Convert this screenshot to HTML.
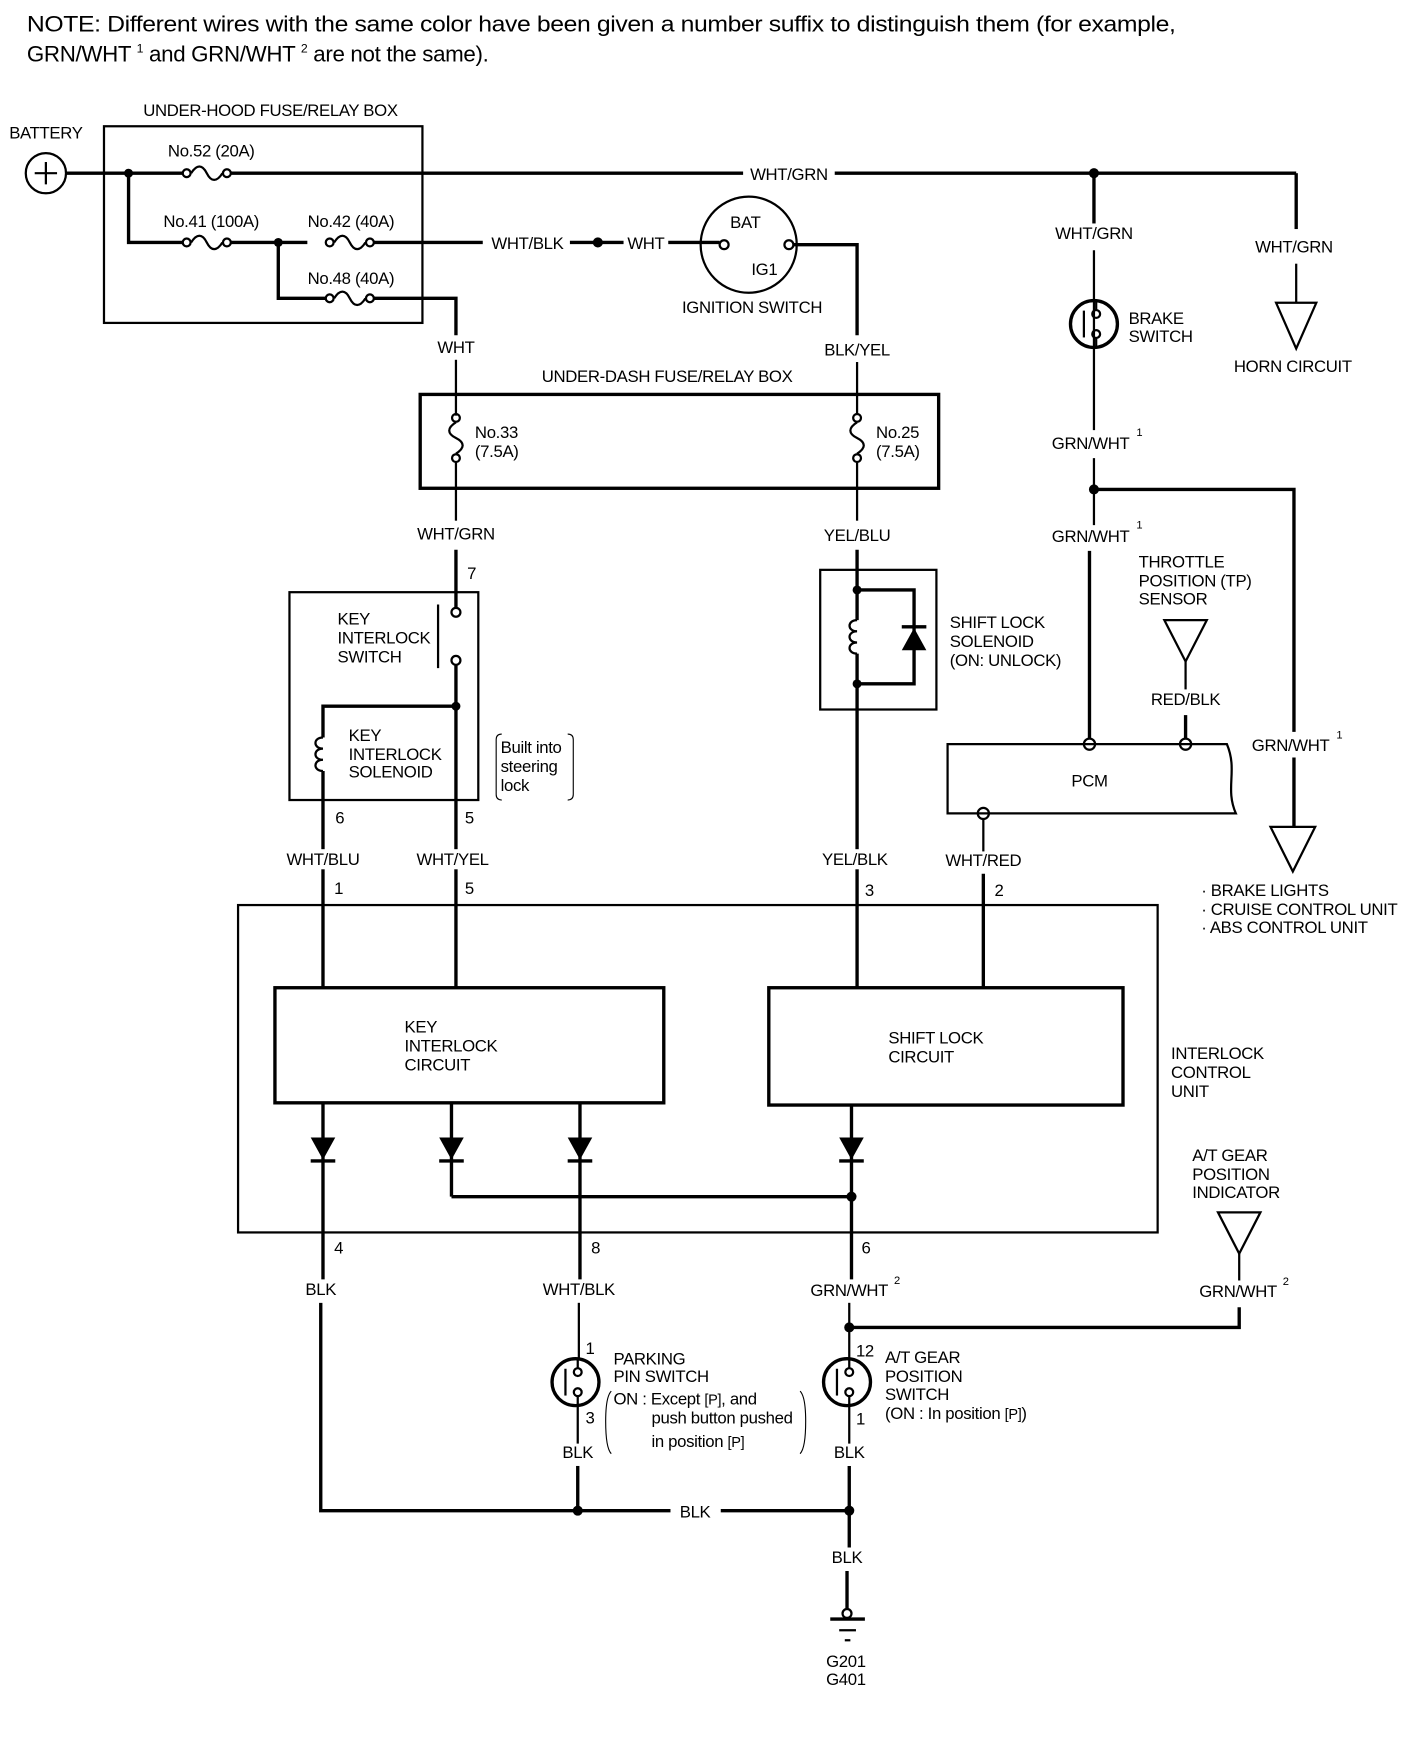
<!DOCTYPE html>
<html><head><meta charset="utf-8"><style>
html,body{margin:0;padding:0;background:#fff;}
svg{display:block;}
text{font-family:"Liberation Sans Narrow","Liberation Sans",sans-serif;font-size:15px;fill:#000;letter-spacing:-0.3px;}
.m{text-anchor:middle;}
.w{stroke:#000;stroke-width:3;fill:none;}
.t{stroke:#000;stroke-width:2;fill:none;}
.b{stroke:#000;stroke-width:2;fill:none;}
</style></head><body>
<svg width="1408" height="1752" viewBox="0 0 1260 1568" xmlns="http://www.w3.org/2000/svg">
<defs>
<g id="fh"><circle cx="4" cy="0" r="3.5" class="t" fill="#fff"/><path d="M8,0 C13,-8 18,-8 22,0 C26,8 31,8 36,0" class="t"/><circle cx="40" cy="0" r="3.5" class="t" fill="#fff"/></g>
<g id="fv"><circle cx="0" cy="4" r="3.5" class="t" fill="#fff"/><path d="M0,8 C-8,13 -8,18 0,22 C8,26 8,31 0,36" class="t"/><circle cx="0" cy="40" r="3.5" class="t" fill="#fff"/></g>
<g id="sw"><circle cx="0" cy="0" r="21" class="w" fill="#fff"/><line x1="-9" y1="-12" x2="-9" y2="12" class="t"/><circle cx="2" cy="-9" r="3.5" class="t" fill="#fff"/><circle cx="2" cy="9" r="3.5" class="t" fill="#fff"/><line x1="2" y1="-21" x2="2" y2="-12.5" class="t"/><line x1="2" y1="12.5" x2="2" y2="21" class="t"/></g>
<g id="coil"><path d="M0,0 C-9,0 -9,10 0,10 C-9,10 -9,20 0,20 C-9,20 -9,30 0,30" class="t"/></g>
<g id="dd"><polygon points="-11,0 11,0 0,20" fill="#000"/><line x1="-11" y1="21" x2="11" y2="21" class="w"/></g>
</defs>

<text x="24" y="28" style="font-size:20px" textLength="1028" lengthAdjust="spacingAndGlyphs">NOTE:   Different wires with the same color have been given a number suffix to distinguish them (for example,</text>
<text x="24" y="55" style="font-size:20px">GRN/WHT <tspan dy="-8" style="font-size:11px">1</tspan><tspan dy="8"> and GRN/WHT </tspan><tspan dy="-8" style="font-size:11px">2</tspan><tspan dy="8"> are not the same).</tspan></text>

<!-- under-hood -->
<text x="242" y="104" class="m">UNDER-HOOD FUSE/RELAY BOX</text>
<text x="41" y="124" class="m">BATTERY</text>
<circle cx="41" cy="155" r="18" class="t"/>
<line x1="31" y1="155" x2="51" y2="155" class="t"/><line x1="41" y1="145" x2="41" y2="165" class="t"/>
<rect x="93" y="113" width="285" height="176" class="t"/>
<line x1="59" y1="155" x2="163" y2="155" class="w"/>
<use href="#fh" x="163" y="155"/>
<text x="189" y="140" class="m">No.52 (20A)</text>
<line x1="207" y1="155" x2="665" y2="155" class="w"/>
<text x="706" y="161" class="m">WHT/GRN</text>
<line x1="747" y1="155" x2="1160" y2="155" class="w"/>
<circle cx="115" cy="155" r="4"/>
<polyline points="115,155 115,217 163,217" class="w"/>
<use href="#fh" x="163" y="217"/>
<text x="189" y="203" class="m">No.41 (100A)</text>
<line x1="207" y1="217" x2="275" y2="217" class="w"/>
<circle cx="249" cy="217" r="4"/>
<use href="#fh" x="291" y="217"/>
<text x="314" y="203" class="m">No.42 (40A)</text>
<line x1="335" y1="217" x2="432" y2="217" class="w"/>
<text x="472" y="223" class="m">WHT/BLK</text>
<line x1="510" y1="217" x2="558" y2="217" class="w"/>
<circle cx="535" cy="217" r="4.5"/>
<text x="578" y="223" class="m">WHT</text>
<line x1="598" y1="217" x2="644" y2="217" class="w"/>
<polyline points="249,217 249,267 291,267" class="w"/>
<use href="#fh" x="291" y="267"/>
<text x="314" y="254" class="m">No.48 (40A)</text>
<polyline points="335,267 408,267 408,300" class="w"/>
<text x="408" y="316" class="m">WHT</text>
<line x1="408" y1="322" x2="408" y2="372" class="t"/>

<!-- ignition -->
<circle cx="670" cy="219" r="43" class="t"/>
<text x="667" y="204" class="m">BAT</text>
<text x="684" y="246" class="m">IG1</text>
<circle cx="648" cy="219" r="4" class="t"/><circle cx="706" cy="219" r="4" class="t"/>
<text x="673" y="280" class="m">IGNITION SWITCH</text>
<polyline points="710,219 767,219 767,300" class="w"/>
<text x="767" y="318" class="m">BLK/YEL</text>
<line x1="767" y1="324" x2="767" y2="370" class="t"/>

<!-- under-dash -->
<text x="597" y="342" class="m">UNDER-DASH FUSE/RELAY BOX</text>
<rect x="376" y="353" width="464" height="84" class="w"/>
<use href="#fv" x="408" y="370"/>
<use href="#fv" x="767" y="370"/>
<text x="425" y="392">No.33</text><text x="425" y="409">(7.5A)</text>
<text x="784" y="392">No.25</text><text x="784" y="409">(7.5A)</text>
<line x1="408" y1="414" x2="408" y2="466" class="t"/>
<text x="408" y="483" class="m">WHT/GRN</text>
<line x1="408" y1="492" x2="408" y2="544" class="w"/>
<text x="418" y="518">7</text>
<line x1="767" y1="414" x2="767" y2="466" class="t"/>
<text x="767" y="484" class="m">YEL/BLU</text>
<line x1="767" y1="492" x2="767" y2="555" class="w"/>

<!-- key interlock -->
<rect x="259" y="530" width="169" height="186" class="t"/>
<circle cx="408" cy="548" r="4" class="t" fill="#fff"/>
<circle cx="408" cy="591" r="4" class="t" fill="#fff"/>
<line x1="392" y1="541" x2="392" y2="598" class="t"/>
<text x="302" y="559">KEY</text><text x="302" y="576">INTERLOCK</text><text x="302" y="593">SWITCH</text>
<line x1="408" y1="595" x2="408" y2="884" class="w"/>
<circle cx="408" cy="632" r="4"/>
<polyline points="408,632 289,632 289,660" class="w"/>
<use href="#coil" x="289" y="660"/>
<line x1="289" y1="690" x2="289" y2="884" class="w"/>
<text x="312" y="663">KEY</text><text x="312" y="680">INTERLOCK</text><text x="312" y="696">SOLENOID</text>
<path d="M449,657 Q444,657 444,662 L444,711 Q444,716 449,716" class="b" style="stroke-width:1"/>
<path d="M508,657 Q513,657 513,662 L513,711 Q513,716 508,716" class="b" style="stroke-width:1"/>
<text x="448" y="674">Built into</text><text x="448" y="691">steering</text><text x="448" y="708">lock</text>
<text x="300" y="737">6</text><text x="416" y="737">5</text>
<rect x="282" y="760" width="16" height="18" fill="#fff"/><rect x="400" y="760" width="16" height="18" fill="#fff"/>
<text x="289" y="774" class="m">WHT/BLU</text>
<text x="405" y="774" class="m">WHT/YEL</text>
<text x="299" y="800">1</text><text x="416" y="800">5</text>

<!-- shift lock solenoid -->
<rect x="734" y="510" width="104" height="125" class="t"/>
<circle cx="767" cy="528" r="4"/>
<polyline points="767,528 818,528 818,612 767,612" class="w"/>
<polygon points="807,582 829,582 818,562" fill="#000"/>
<line x1="807" y1="561" x2="829" y2="561" class="w"/>
<use href="#coil" x="767" y="555"/>
<line x1="767" y1="585" x2="767" y2="884" class="w"/>
<circle cx="767" cy="612" r="4"/>
<text x="850" y="562">SHIFT LOCK</text><text x="850" y="579">SOLENOID</text><text x="850" y="596">(ON: UNLOCK)</text>
<rect x="755" y="760" width="24" height="18" fill="#fff"/>
<text x="765" y="774" class="m">YEL/BLK</text>
<text x="774" y="802">3</text>

<!-- right side -->
<circle cx="979" cy="155" r="4.5"/>
<line x1="979" y1="155" x2="979" y2="200" class="w"/>
<text x="979" y="214" class="m">WHT/GRN</text>
<line x1="979" y1="224" x2="979" y2="385" class="t"/>
<use href="#sw" x="979" y="290"/>
<text x="1010" y="290">BRAKE</text><text x="1010" y="306">SWITCH</text>
<text x="976" y="402" class="m">GRN/WHT</text><text x="1017" y="390" style="font-size:10px">1</text>
<line x1="979" y1="410" x2="979" y2="470" class="t"/>
<circle cx="979" cy="438" r="4.5"/>
<polyline points="979,438 1158,438 1158,655" class="w"/>
<line x1="1158" y1="678" x2="1158" y2="740" class="w"/>
<text x="976" y="485" class="m">GRN/WHT</text><text x="1017" y="473" style="font-size:10px">1</text>
<line x1="975" y1="493" x2="975" y2="662" class="w"/>
<polyline points="1160,155 1160,205" class="w"/>
<text x="1158" y="226" class="m">WHT/GRN</text>
<line x1="1160" y1="236" x2="1160" y2="271" class="t"/>
<polygon points="1142,271 1178,271 1160,312" class="t"/>
<text x="1157" y="333" class="m">HORN CIRCUIT</text>
<text x="1155" y="672" class="m">GRN/WHT</text><text x="1196" y="661" style="font-size:10px">1</text>
<polygon points="1137,740 1177,740 1157,780" class="t"/>
<text x="1075" y="802">· BRAKE LIGHTS</text>
<text x="1075" y="819">· CRUISE CONTROL UNIT</text>
<text x="1075" y="835">· ABS CONTROL UNIT</text>

<!-- TP sensor & PCM -->
<text x="1019" y="508">THROTTLE</text><text x="1019" y="525">POSITION (TP)</text><text x="1019" y="541">SENSOR</text>
<polygon points="1042,555 1080,555 1061,592" class="t"/>
<line x1="1061" y1="592" x2="1061" y2="617" class="t"/>
<text x="1061" y="631" class="m">RED/BLK</text>
<line x1="1061" y1="640" x2="1061" y2="662" class="w"/>
<path d="M848,666 L1098,666 C1108,690 1096,705 1106,728 L848,728 Z" class="t"/>
<circle cx="975" cy="666" r="5" class="t" fill="#fff"/>
<circle cx="1061" cy="666" r="5" class="t" fill="#fff"/>
<circle cx="880" cy="728" r="5" class="t" fill="#fff"/>
<text x="975" y="704" class="m">PCM</text>
<line x1="880" y1="733" x2="880" y2="762" class="t"/>
<text x="880" y="775" class="m">WHT/RED</text>
<text x="890" y="802">2</text>
<line x1="880" y1="782" x2="880" y2="884" class="w"/>

<!-- interlock control unit -->
<rect x="213" y="810" width="823" height="293" class="t"/>
<rect x="246" y="884" width="348" height="103" class="w"/>
<rect x="688" y="884" width="317" height="105" class="w"/>
<text x="362" y="924">KEY</text><text x="362" y="941">INTERLOCK</text><text x="362" y="958">CIRCUIT</text>
<text x="795" y="934">SHIFT LOCK</text><text x="795" y="951">CIRCUIT</text>
<text x="1048" y="948">INTERLOCK</text><text x="1048" y="965">CONTROL</text><text x="1048" y="982">UNIT</text>
<line x1="289" y1="987" x2="289" y2="1145" class="w"/>
<use href="#dd" x="289" y="1018"/>
<line x1="404" y1="987" x2="404" y2="1071" class="w"/>
<use href="#dd" x="404" y="1018"/>
<line x1="519" y1="987" x2="519" y2="1145" class="w"/>
<use href="#dd" x="519" y="1018"/>
<line x1="762" y1="989" x2="762" y2="1145" class="w"/>
<use href="#dd" x="762" y="1018"/>
<polyline points="404,1071 762,1071" class="w"/>
<circle cx="762" cy="1071" r="4.5"/>
<text x="299" y="1122">4</text><text x="529" y="1122">8</text><text x="771" y="1122">6</text>

<!-- bottom -->
<text x="287" y="1159" class="m">BLK</text>
<text x="518" y="1159" class="m">WHT/BLK</text>
<text x="760" y="1160" class="m">GRN/WHT</text><text x="800" y="1149" style="font-size:10px">2</text>
<polyline points="287,1166 287,1352 600,1352" class="w"/>
<text x="622" y="1358" class="m">BLK</text>
<line x1="645" y1="1352" x2="760" y2="1352" class="w"/>
<circle cx="517" cy="1352" r="4.5"/><circle cx="760" cy="1352" r="4.5"/>
<line x1="518" y1="1166" x2="518" y2="1216" class="t"/>
<use href="#sw" x="515" y="1237"/>
<line x1="517" y1="1258" x2="517" y2="1292" class="t"/>
<text x="524" y="1212">1</text><text x="524" y="1274">3</text>
<text x="517" y="1305" class="m">BLK</text>
<line x1="517" y1="1312" x2="517" y2="1352" class="w"/>
<text x="549" y="1221">PARKING</text><text x="549" y="1237">PIN SWITCH</text>
<path d="M547,1245 Q542,1250 542,1272 Q542,1296 547,1301" class="b" style="stroke-width:1"/>
<path d="M716,1245 Q721,1250 721,1272 Q721,1296 716,1301" class="b" style="stroke-width:1"/>
<text x="549" y="1257">ON : Except <tspan style="font-size:13px">[P]</tspan>, and</text>
<text x="583" y="1274">push button pushed</text>
<text x="583" y="1295">in position <tspan style="font-size:13px">[P]</tspan></text>

<line x1="760" y1="1166" x2="760" y2="1216" class="t"/>
<circle cx="760" cy="1188" r="4.5"/>
<polyline points="760,1188 1109,1188 1109,1170" class="w"/>
<text x="1108" y="1161" class="m">GRN/WHT</text><text x="1148" y="1150" style="font-size:10px">2</text>
<line x1="1109" y1="1146" x2="1109" y2="1122" class="t"/>
<polygon points="1090,1085 1128,1085 1109,1122" class="t"/>
<text x="1067" y="1039">A/T GEAR</text><text x="1067" y="1056">POSITION</text><text x="1067" y="1072">INDICATOR</text>
<use href="#sw" x="758" y="1237"/>
<text x="766" y="1214">12</text><text x="766" y="1275">1</text>
<line x1="760" y1="1258" x2="760" y2="1292" class="t"/>
<text x="760" y="1305" class="m">BLK</text>
<line x1="760" y1="1312" x2="760" y2="1385" class="w"/>
<text x="792" y="1220">A/T GEAR</text><text x="792" y="1237">POSITION</text><text x="792" y="1253">SWITCH</text>
<text x="792" y="1270">(ON : In position <tspan style="font-size:13px">[P]</tspan>)</text>
<text x="758" y="1399" class="m">BLK</text>
<line x1="758" y1="1406" x2="758" y2="1440" class="w"/>
<circle cx="758" cy="1444" r="4" class="t" fill="#fff"/>
<line x1="743" y1="1449" x2="774" y2="1449" class="w"/>
<line x1="751" y1="1459" x2="766" y2="1459" class="t"/>
<line x1="756" y1="1468" x2="761" y2="1468" class="t"/>
<text x="757" y="1492" class="m">G201</text><text x="757" y="1508" class="m">G401</text>
</svg>
</body></html>
